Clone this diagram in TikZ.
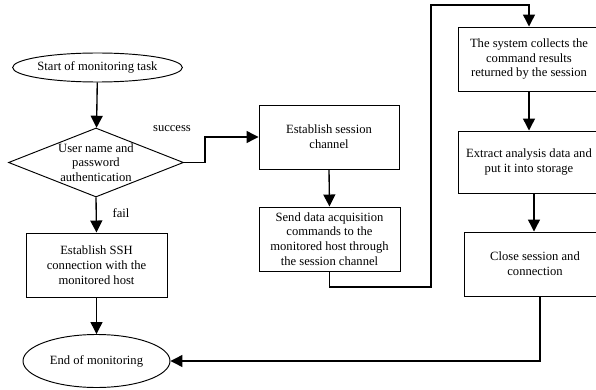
\documentclass[tikz,border=0pt]{standalone}
\usepackage{fontspec}
\setmainfont{Liberation Serif}
\usetikzlibrary{shapes.geometric,arrows.meta}
\begin{document}
\begin{tikzpicture}[x=1pt,y=-1pt,
  every node/.style={font=\fontsize{12.6}{14.7}\selectfont, align=center, inner sep=0pt},
  procbox/.style={draw, line width=0.95pt, minimum height=64pt},
  terminal/.style={draw, ellipse, line width=0.95pt},
  decision/.style={draw, diamond, line width=0.95pt},
  arr/.style={line width=1.35pt, -{Triangle[length=12pt,width=12pt]}},
]
\clip (0,0) rectangle (596,390);

% terminals
\node[terminal, minimum width=149pt, minimum height=29pt] (start) at (97.5,67.5) {Start of monitoring task};
\node[terminal, minimum width=147pt, minimum height=53pt] (finish) at (96.5,361) {End of monitoring};

% decision
\node[decision, minimum width=175pt, minimum height=69pt,
      label={[font=\fontsize{12.6}{14.7}\selectfont, align=center]center:User name and\\password\\authentication}] (auth) at (96,162.5) {};

% process boxes
\node[procbox, minimum width=141pt] (ssh) at (96.5,265) {Establish SSH\\connection with the\\monitored host};
\node[procbox, minimum width=140pt] (sess) at (329,137) {Establish session\\channel};
\node[procbox, minimum width=141pt] (send) at (329.5,239) {Send data acquisition\\commands to the\\monitored host through\\the session channel};
\node[procbox, minimum width=142pt] (collect) at (529,59) {The system collects the\\command results\\returned by the session};
\node[procbox, minimum width=142pt, minimum height=62pt] (extract) at (529,162) {Extract analysis data and\\put it into storage};
\node[procbox, minimum width=142pt] (close) at (535,264) {Close session and\\connection};

% connectors
\draw[arr] (start) -- (auth);
\draw[arr] (auth.east) -- ++(21,0) |- (sess.west);
\node (succ) at (172,129) {success};
\draw[arr] (auth.south) -- (ssh.north);
\node (failtxt) at (121,213) {fail};
\draw[arr] (ssh.south) -- (finish.north);
\draw[arr] (sess.south) -- (send.north);
\coordinate (loopA) at (329.5,287);
\coordinate (loopB) at (431,5);
\draw[arr] (send.south) -- (loopA) -| (loopB) -| (collect.north);
\draw[arr] (collect.south) -- (extract.north);
\draw[arr] ([xshift=5pt]extract.south) -- ([xshift=-1pt]close.north);
\draw[arr] ([xshift=5pt]close.south) |- (finish.east);
\end{tikzpicture}
\end{document}
